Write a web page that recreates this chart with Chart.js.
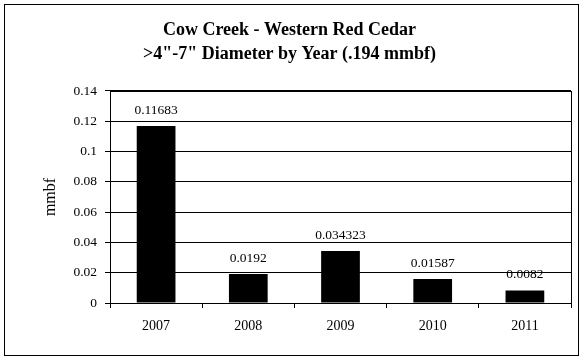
<!DOCTYPE html>
<html>
<head>
<meta charset="utf-8">
<script src="https://cdn.jsdelivr.net/npm/chart.js@4/dist/chart.umd.min.js"></script>
<style>
  html, body { margin: 0; padding: 0; background: #fff; }
  #wrap { width: 583px; height: 360px; position: relative; }
</style>
</head>
<body>
<div id="wrap"><canvas id="chart" width="583" height="360"></canvas></div>
<script>
'use strict';

/* DATA */
const years = ['2007', '2008', '2009', '2010', '2011'];
const volumes = [0.11683, 0.0192, 0.034323, 0.01587, 0.0082];
const valueLabels = ['0.11683', '0.0192', '0.034323', '0.01587', '0.0082'];
const titleLines = ['Cow Creek - Western Red Cedar', '>4"-7" Diameter by Year (.194 mmbf)'];
const yTitle = 'mmbf';

const serif = '"Liberation Serif", "Times New Roman", serif';

/* outer frame + plot box + value labels */
const framePlugin = {
  id: 'frame',
  afterDraw(chart) {
    const ctx = chart.ctx;
    const a = chart.chartArea;
    ctx.save();
    ctx.strokeStyle = '#000';
    ctx.lineWidth = 1;
    ctx.strokeRect(4.5, 4.5, 574, 351);
    ctx.strokeRect(Math.round(a.left) + 0.5, Math.round(a.top) + 0.5,
      Math.round(a.right - a.left), Math.round(a.bottom - a.top));
    ctx.fillStyle = '#000';
    ctx.font = '13.5px ' + serif;
    ctx.textAlign = 'center';
    ctx.textBaseline = 'bottom';
    chart.getDatasetMeta(0).data.forEach((bar, i) => {
      ctx.fillText(valueLabels[i], bar.x, bar.y - 9);
    });
    ctx.restore();
  }
};

new Chart(document.getElementById('chart'), {
  type: 'bar',
  data: {
    labels: years,
    datasets: [{
      data: volumes,
      backgroundColor: '#000',
      borderWidth: 0,
      barPercentage: 0.42,
      categoryPercentage: 1
    }]
  },
  options: {
    responsive: false,
    animation: false,
    layout: { padding: { left: 8, right: 12, top: 8, bottom: 0 } },
    plugins: {
      legend: { display: false },
      tooltip: { enabled: false },
      title: {
        display: true,
        text: titleLines,
        color: '#000',
        font: { family: serif, size: 18, weight: 'bold', lineHeight: 1.333 },
        padding: { top: 10, bottom: 25 }
      }
    },
    scales: {
      x: {
        grid: {
          display: true,
          drawOnChartArea: false,
          drawTicks: true,
          tickLength: 5,
          color: '#000'
        },
        border: { display: true, color: '#000', width: 1 },
        ticks: { color: '#000', font: { family: serif, size: 14 }, padding: 10 },
        afterFit(scale) { scale.height = 57; }
      },
      y: {
        min: 0,
        max: 0.14,
        ticks: {
          stepSize: 0.02,
          color: '#000',
          font: { family: serif, size: 13.5 },
          padding: 8,
          callback: v => String(Math.round(v * 100) / 100)
        },
        grid: { color: '#000', tickLength: 5 },
        border: { display: true, color: '#000', width: 1 },
        title: {
          display: true,
          text: yTitle,
          color: '#000',
          font: { family: serif, size: 16 },
          padding: { top: 33, bottom: 0 }
        },
        afterFit(scale) { scale.width = 102; }
      }
    }
  },
  plugins: [framePlugin]
});
</script>
</body>
</html>
